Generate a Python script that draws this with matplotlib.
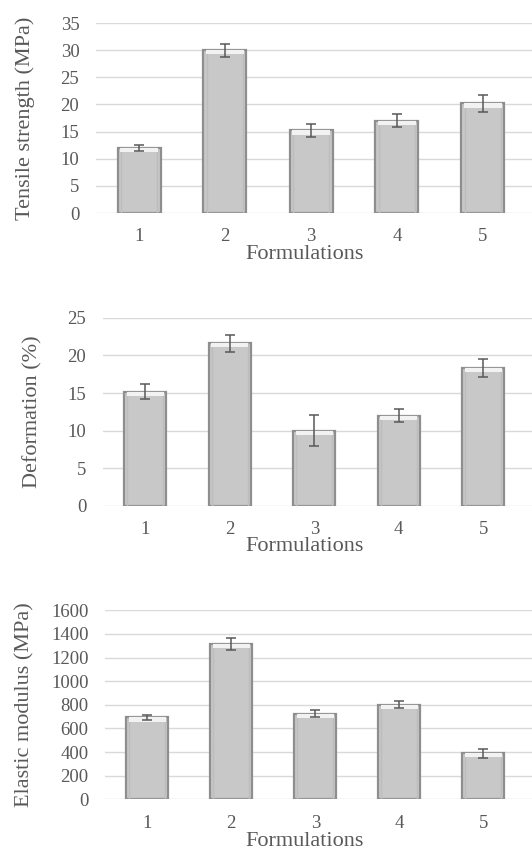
import matplotlib
matplotlib.use("Agg")
import matplotlib.pyplot as plt
import numpy as np

categories = ["1", "2", "3", "4", "5"]

tensile = [12.0, 30.0, 15.2, 17.0, 20.2]
tensile_err = [0.5, 1.2, 1.2, 1.2, 1.6]

deformation = [15.2, 21.6, 10.0, 12.0, 18.3]
deformation_err = [1.0, 1.1, 2.1, 0.9, 1.2]

modulus = [693, 1318, 723, 802, 390]
modulus_err = [20, 50, 30, 27, 38]

ylabels = ["Tensile strength (MPa)", "Deformation (%)", "Elastic modulus (MPa)"]
yticks = [np.arange(0, 36, 5), np.arange(0, 26, 5), np.arange(0, 1601, 200)]
xlabel = "Formulations"

plt.rcParams['font.family'] = ['Liberation Serif', 'DejaVu Serif']
TXT = '#595959'

W, H = 532, 851
fig = plt.figure(figsize=(W / 100, H / 100), dpi=100)

# panel geometry in pixels: left, top, bottom, px per category, ylabel right edge, xlabel centre, xlabel offset
panels = [
    (96, 23, 213, 86, 35, 305, 0.168),
    (103, 317.7, 506, 84.5, 42, 305, 0.165),
    (105.3, 610.3, 799.3, 84, 34, 305, 0.173),
]
datasets = [(tensile, tensile_err), (deformation, deformation_err), (modulus, modulus_err)]

for (left, top, bottom, step, ylr, xlc, xoff), (vals, errs), ylab, yt in zip(panels, datasets, ylabels, yticks):
    ax = fig.add_axes([left / W, 1 - bottom / H, (W - left) / W, (bottom - top) / H])
    x = np.arange(1, len(categories) + 1)
    v = np.asarray(vals, dtype=float)
    bev = (yt[-1] - yt[0]) * 0.022
    ax.bar(x, v, width=0.5, color='#c8c8c8', edgecolor='#8e8e8e', linewidth=1.6, zorder=3)
    ax.bar(x, v, width=0.43, color='none', edgecolor='#bdbdbd', linewidth=1.0, zorder=3.2)
    ax.bar(x, bev, bottom=v - bev, width=0.44, color='#f2f2f2', edgecolor='none', zorder=3.4)
    ax.errorbar(x, v, yerr=errs, fmt='none', ecolor='#595959', elinewidth=1.1,
                capsize=3.5, capthick=1.1, zorder=4)
    ax.set_xlim(0.5, 0.5 + (W - left) / step)
    ax.set_ylim(yt[0], yt[-1])
    ax.set_yticks(yt)
    ax.set_xticks(x)
    ax.set_xticklabels(categories)
    ax.yaxis.grid(True, color='#d9d9d9', linewidth=1.0, zorder=0)
    ax.set_axisbelow(True)
    for s in ax.spines.values():
        s.set_visible(False)
    ax.tick_params(axis='both', length=0, labelsize=13.5, labelcolor=TXT)
    ax.tick_params(axis='x', pad=11)
    ax.tick_params(axis='y', pad=12)
    ax.set_ylabel(ylab, fontsize=16, color=TXT)
    ax.set_xlabel(xlabel, fontsize=16, color=TXT)
    ax.yaxis.set_label_coords((ylr - left) / (W - left), 0.5)
    ax.xaxis.set_label_coords((xlc - left) / (W - left), -xoff)
    ax.xaxis.label.set_va('top')

fig.savefig("out.png", dpi=100, facecolor='white')
